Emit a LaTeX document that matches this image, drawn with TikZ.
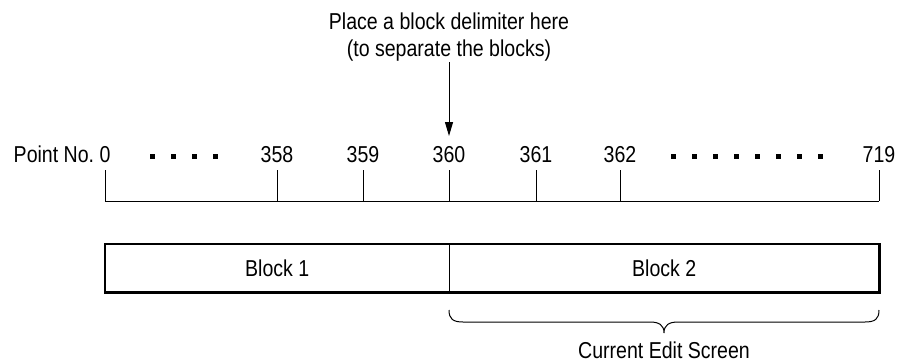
\documentclass[tikz,border=0pt]{standalone}
\usepackage{fontspec}
\setmainfont{Liberation Sans}[FakeStretch=0.85]
\usetikzlibrary{arrows.meta}
\begin{document}
\begin{tikzpicture}[x=1pt,y=-1pt,
  lbl/.style={font=\fontsize{23}{28}\selectfont, inner sep=0pt, anchor=base},
  tick/.style={line width=1pt},
  dotsq/.style={fill=black, minimum size=5pt, inner sep=0pt, draw=none, rectangle},
  boxline/.style={line width=2.4pt},
  thin/.style={line width=1pt}]
\useasboundingbox (0,0) rectangle (904,362);
% point labels
\node[lbl] (p0) at (105,162) {0};
\node[lbl, anchor=base east] (pn) at ([xshift=-5pt]p0.base west) {Point No.};
\node[lbl] (p358) at (277,162) {358};
\node[lbl] (p359) at (363,162) {359};
\node[lbl] (p360) at (449,162) {360};
\node[lbl] (p361) at (536,162) {361};
\node[lbl] (p362) at (620,162) {362};
\node[lbl] (p719) at (879,162) {719};
% dots
\foreach \x in {152.5,173.5,194,215}{\node[dotsq] at (\x,156) {};}
\foreach \x in {673,694,715,736,757,778,799,820}{\node[dotsq] at (\x,156) {};}
% axis
\coordinate (a0) at (105,201);
\coordinate (a719) at (879,201);
\draw[tick] (a0) -- (a719);
\foreach \x in {105,277,363,449,536,620,879}{\draw[tick] (\x,170) -- (\x,201);}
% top text and arrow
\node[lbl] (top1) at (449,29) {Place a block delimiter here};
\node[lbl] (top2) at (449,56) {(to separate the blocks)};
\coordinate (arrtip) at (449,136);
\draw[thin, -{Triangle[width=8pt,length=14pt]}] (449,62) -- (arrtip);
% blocks
\node[minimum width=344pt, minimum height=48pt, inner sep=0pt, anchor=north west] (b1) at (105,244) {};
\node[minimum width=430pt, minimum height=48pt, inner sep=0pt, anchor=north west] (b2) at (449,244) {};
\draw[boxline] (b1.north west) rectangle (b2.south east);
\draw[thin] (b1.north east) -- (b1.south east);
\node[lbl, anchor=center] at (b1.center) {Block 1};
\node[lbl, anchor=center] at (b2.center) {Block 2};
% brace
\coordinate (bl) at (449,310);
\coordinate (br) at (879,310);
\coordinate (bt) at (664,333);
\draw[thin] (bl) .. controls (449,319) and (453,322) .. (463,322) -- (650,322)
  .. controls (659,322) and (664,325) .. (bt)
  .. controls (664,325) and (669,322) .. (678,322) -- (865,322)
  .. controls (875,322) and (879,319) .. (br);
\node[lbl] (ces) at (664,358) {Current Edit Screen};
\end{tikzpicture}
\end{document}
